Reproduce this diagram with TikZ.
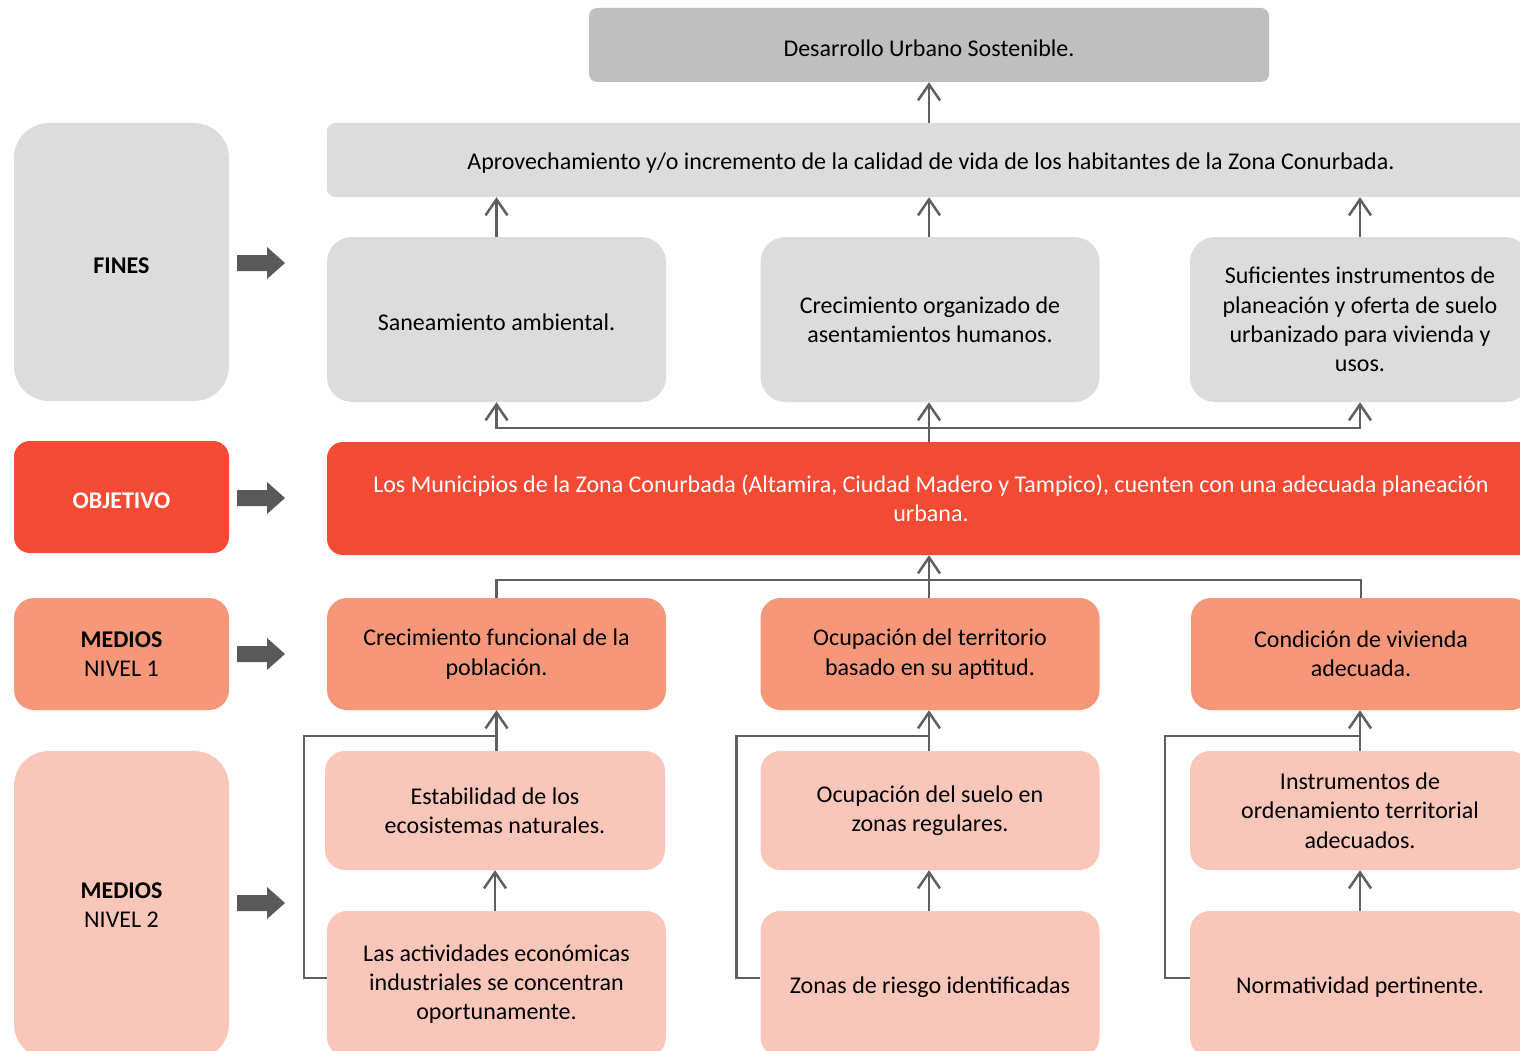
\documentclass[tikz,border=0pt]{standalone}
\usepackage{fontspec}
\setmainfont{Carlito}
\usetikzlibrary{arrows.meta}
\definecolor{topgray}{HTML}{BFBFBF}
\definecolor{lgray}{HTML}{DCDCDC}
\definecolor{objred}{HTML}{F54A33}
\definecolor{medone}{HTML}{F7977A}
\definecolor{medtwo}{HTML}{F9C6B9}
\definecolor{lnc}{HTML}{5F5F5F}
\definecolor{blk}{HTML}{595959}
\newcommand\txtfs{\fontsize{24}{29.3}\selectfont}
\newcommand\mystrut{\rule{0pt}{23pt}}
\tikzset{
  bx/.style={rounded corners=#1, inner sep=0pt, align=center, font=\txtfs, text=black, draw=none,
    execute at begin node=\mystrut},
  conn/.style={draw=lnc, line width=2.5pt, -{Straight Barb[length=16pt,width=22pt]}},
  plain/.style={draw=lnc, line width=2.5pt},
  blkarrow/.style={fill=blk},
}
\begin{document}
\begin{tikzpicture}[x=1pt,y=-1pt]
\clip (0,0) rectangle (1520,1051);
\fill[white] (0,0) rectangle (1520,1051);

% top
\node[bx=8pt, fill=topgray, minimum width=680pt, minimum height=74pt] (top) at (929,45) {Desarrollo Urbano Sostenible.};
\node[bx=8pt, fill=lgray, minimum width=1208pt, minimum height=74pt] (aprov) at (931,160) {Aprovechamiento y/o incremento de la calidad de vida de los habitantes de la Zona Conurbada.};

% labels
\node[bx=35pt, fill=lgray, minimum width=215pt, minimum height=278pt] (lfines) at (121.5,262) {\bfseries FINES};
\node[bx=16pt, fill=objred, text=white, minimum width=215pt, minimum height=112pt] (lobj) at (121.5,497) {\bfseries OBJETIVO};
\node[bx=20pt, fill=medone, minimum width=215pt, minimum height=112pt] (lmed1) at (121.5,654) {\bfseries MEDIOS\\NIVEL 1};
\node[bx=35pt, fill=medtwo, minimum width=215pt, minimum height=308pt] (lmed2) at (121.5,905) {\bfseries MEDIOS\\NIVEL 2};

% fines
\node[bx=25pt, fill=lgray, minimum width=339pt, minimum height=165pt] (f1) at (496.5,319.5) {Saneamiento ambiental.};
\node[bx=25pt, fill=lgray, minimum width=339pt, minimum height=165pt] (f2) at (930,319.5) {Crecimiento organizado de\\asentamientos humanos.};
\node[bx=25pt, fill=lgray, minimum width=340pt, minimum height=165pt] (f3) at (1360,319.5) {Suficientes instrumentos de\\planeación y oferta de suelo\\urbanizado para vivienda y\\usos.};

% objetivo
\node[bx=16pt, fill=objred, text=white, minimum width=1208pt, minimum height=113pt] (obj) at (931,498.5) {Los Municipios de la Zona Conurbada (Altamira, Ciudad Madero y Tampico), cuenten con una adecuada planeación\\urbana.};

% medios 1
\node[bx=20pt, fill=medone, minimum width=339pt, minimum height=112pt] (ma) at (496.5,654) {Crecimiento funcional de la\\población.};
\node[bx=20pt, fill=medone, minimum width=339pt, minimum height=112pt] (mb) at (930,654) {Ocupación del territorio\\basado en su aptitud.};
\node[bx=20pt, fill=medone, minimum width=340pt, minimum height=112pt] (mc) at (1361,654) {Condición de vivienda\\adecuada.};

% medios 2 row A
\node[bx=20pt, fill=medtwo, minimum width=340pt, minimum height=119pt] (na) at (495,810.5) {Estabilidad de los\\ecosistemas naturales.};
\node[bx=20pt, fill=medtwo, minimum width=339pt, minimum height=119pt] (nb) at (930,810.5) {Ocupación del suelo en\\zonas regulares.};
\node[bx=20pt, fill=medtwo, minimum width=340pt, minimum height=119pt] (nc) at (1360,810.5) {Instrumentos de\\ordenamiento territorial\\adecuados.};

% medios 2 row B
\node[bx=20pt, fill=medtwo, minimum width=339pt, minimum height=146pt] (pa) at (496.5,984) {Las actividades económicas\\industriales se concentran\\oportunamente.};
\node[bx=20pt, fill=medtwo, minimum width=339pt, minimum height=146pt] (pb) at (930,984) {Zonas de riesgo identificadas};
\node[bx=20pt, fill=medtwo, minimum width=340pt, minimum height=146pt] (pc) at (1360,984) {Normatividad pertinente.};

% block arrows
\foreach \cy in {263,498,654,903}{
  \fill[blkarrow] (237,{\cy-8}) -- (267,{\cy-8}) -- (267,{\cy-16}) -- (285,\cy) -- (267,{\cy+16}) -- (267,{\cy+8}) -- (237,{\cy+8}) -- cycle;
}

% connectors
\draw[conn] (aprov.north -| top.south) -- (top.south);
\draw[conn] (f1.north) -- (f1.north |- aprov.south);
\draw[conn] (f2.north -| top.south) -- (top.south |- aprov.south);
\draw[conn] (f3.north) -- (f3.north |- aprov.south);

\coordinate (jone) at (929,428);
\draw[conn] (obj.north -| jone) -- (jone |- f2.south);
\draw[conn] (jone) -| (f1.south);
\draw[conn] (jone) -| (f3.south);

\coordinate (jtwo) at (929,580);
\draw[conn] (mb.north -| jtwo) -- (jtwo |- obj.south);
\draw[plain] (ma.north) |- (jtwo);
\draw[plain] (mc.north) |- (jtwo);

\draw[conn] (na.north -| ma.south) -- (ma.south);
\draw[conn] (nb.north -| jtwo) -- (jtwo |- mb.south);
\draw[conn] (nc.north) -- (nc.north |- mc.south);

\draw[conn] (pa.north -| na.south) -- (na.south);
\draw[conn] (pb.north -| jtwo) -- (jtwo |- nb.south);
\draw[conn] (pc.north -| nc.south) -- (nc.south);

\draw[plain] ([yshift=6pt]pa.west) -- ++(-23,0) |- ([yshift=-26pt]ma.south);
\draw[plain] ([yshift=6pt]pb.west) -- ++(-24,0) |- ([yshift=-26pt]jtwo |- mb.south);
\draw[plain] ([yshift=6pt]pc.west) -- ++(-25,0) |- ([yshift=-26pt]nc.north |- mc.south);
\end{tikzpicture}
\end{document}
